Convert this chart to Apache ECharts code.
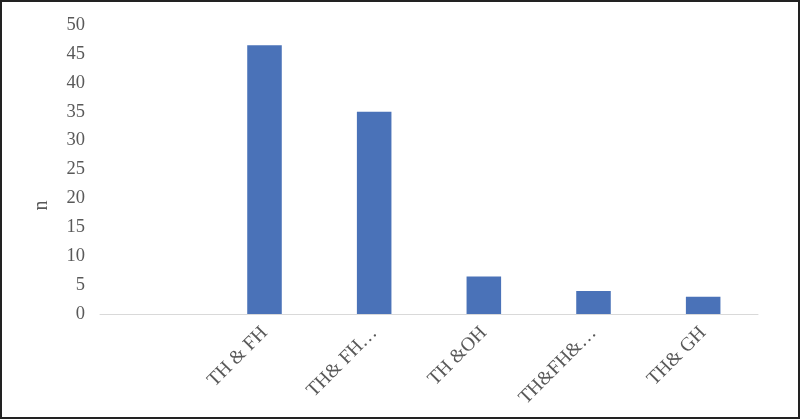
<!DOCTYPE html>
<html><head><meta charset="utf-8">
<script src="https://cdn.jsdelivr.net/npm/echarts@6/dist/echarts.min.js"></script>
<style>
html,body{margin:0;padding:0;background:#fff;}
#wrap{position:absolute;left:0;top:0;width:796px;height:415px;border:2px solid #222;}
#c{width:796px;height:415px;}
</style></head><body>
<div id="wrap"><div id="c"></div></div>
<script>
const categories = ["", "TH & FH", "TH& FH…", "TH &OH", "TH&FH&…", "TH& GH"];
const values = [null, 46.5, 35, 6.5, 4, 3];
const yTicks = {min: 0, max: 50, interval: 5};

const chart = echarts.init(document.getElementById('c'));
const font = "'Liberation Serif', 'Times New Roman', serif";
chart.setOption({
  animation: false,
  grid: {left: 98, right: 40, top: 23, bottom: 103},
  xAxis: {
    type: 'category', data: categories,
    axisLine: {lineStyle: {color: '#d9d9d9', width: 1}},
    axisTick: {show: false},
    axisLabel: {rotate: 45, color: '#595959', fontSize: 19.5, fontFamily: font, margin: 16, interval: 0}
  },
  yAxis: {
    type: 'value', min: yTicks.min, max: yTicks.max, interval: yTicks.interval,
    name: 'n', nameLocation: 'middle', nameGap: 48, nameRotate: 90,
    nameTextStyle: {color: '#595959', fontSize: 20, fontFamily: font, padding: [0, 72, 0, 0]},
    axisLine: {show: false}, axisTick: {show: false}, splitLine: {show: false},
    axisLabel: {color: '#595959', fontSize: 18.5, fontFamily: font, margin: 15}
  },
  series: [{type: 'bar', data: values, barWidth: '31.5%', itemStyle: {color: '#4a72b8'}}]
});
</script></body></html>
